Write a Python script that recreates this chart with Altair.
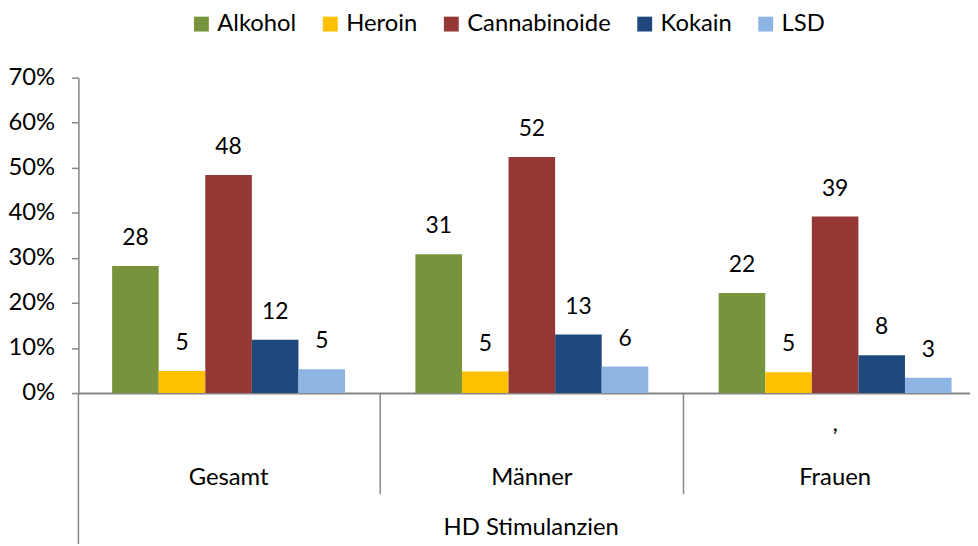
import altair as alt
import pandas as pd

groups = ["Gesamt", "Männer", "Frauen"]
drugs = ["Alkohol", "Heroin", "Cannabinoide", "Kokain", "LSD"]
colors = ["#77933C", "#FFC000", "#953735", "#1F497D", "#8EB4E3"]
gesamt = [28.2, 4.9, 48.4, 11.8, 5.3]
maenner = [30.8, 4.8, 52.4, 13.0, 5.9]
frauen = [22.2, 4.6, 39.2, 8.4, 3.4]
y_ticks = [0, 10, 20, 30, 40, 50, 60, 70]
axis_title = "HD Stimulanzien"
separators = ["Männer", "Frauen"]

rows = []
for g, vals in zip(groups, [gesamt, maenner, frauen]):
    for d, v in zip(drugs, vals):
        rows.append({"Gruppe": g, "Droge": d, "Wert": v})
df = pd.DataFrame(rows)

FONT = "Lato"
FS = 24
W, H = 899, 318
GRAY = "#868686"
P_IN = 0.232
P_OUT = 0.086
STEP = W / (3 - P_IN + 2 * P_OUT)
GAP = P_IN * STEP
ALIGN = 34 / (W - STEP * (3 - P_IN))

x_scale = alt.Scale(domain=groups, paddingInner=P_IN, paddingOuter=P_OUT, align=ALIGN)

x = alt.X(
    "Gruppe:N",
    sort=groups,
    scale=x_scale,
    axis=alt.Axis(
        title=axis_title,
        ticks=False,
        domainColor=GRAY,
        domainWidth=2,
        labelAngle=0,
        labelPadding=38,
        labelBaseline="alphabetic",
        labelFontSize=FS,
        labelFont=FONT,
        labelColor="black",
        labelLineHeight=54,
        labelOverlap=False,
        labelExpr="datum.value == 'Frauen' ? [',', datum.value] : [' ', datum.value]",
        titleFont=FONT,
        titleFontSize=FS,
        titleFontWeight="normal",
        titleColor="black",
        titleX=456,
        titleAlign="center",
        titleY=143,
        titleBaseline="alphabetic",
    ),
)
xo = alt.XOffset("Droge:N", sort=drugs, scale=alt.Scale(paddingInner=0, paddingOuter=0))
y = alt.Y(
    "Wert:Q",
    scale=alt.Scale(domain=[0, 70], nice=False),
    axis=alt.Axis(
        values=y_ticks,
        labelExpr="datum.value + '%'",
        title=None,
        grid=False,
        tickSize=7,
        tickColor=GRAY,
        tickWidth=1.5,
        domainColor=GRAY,
        domainWidth=1.5,
        labelPadding=17,
        labelFontSize=FS,
        labelFont=FONT,
        labelColor="black",
    ),
)

base = alt.Chart(df)
bars = base.mark_bar().encode(
    x=x,
    xOffset=xo,
    y=y,
    color=alt.Color(
        "Droge:N",
        sort=drugs,
        scale=alt.Scale(domain=drugs, range=colors),
        legend=alt.Legend(
            orient="none",
            legendX=112,
            legendY=-66,
            direction="horizontal",
            title=None,
            symbolType="square",
            symbolSize=225,
            symbolStrokeWidth=0,
            labelFontSize=FS,
            labelFont=FONT,
            labelColor="black",
            columnPadding=22,
            labelOffset=4,
        ),
    ),
)
labels = base.mark_text(baseline="bottom", dy=-16, fontSize=23, font=FONT, color="black").encode(
    x=x, xOffset=xo, y=y, text=alt.Text("Wert:Q", format=".0f")
)
seps = alt.Chart(pd.DataFrame({"Gruppe": separators})).mark_rule(
    color=GRAY, strokeWidth=1.5, xOffset=-GAP / 2
).encode(
    x=alt.X("Gruppe:N", sort=groups, scale=x_scale, bandPosition=0),
    y=alt.value(H),
    y2=alt.value(H + 102),
)
ext = alt.Chart(pd.DataFrame({"a": [0]})).mark_rule(color=GRAY, strokeWidth=1.5).encode(
    x=alt.value(0), y=alt.value(H), y2=alt.value(H + 160)
)

chart = (
    alt.layer(bars, labels, seps, ext)
    .properties(
        width=W,
        height=H,
        autosize=alt.AutoSizeParams(type="none"),
        padding={"left": 71, "top": 68, "right": 0, "bottom": 150},
    )
    .configure_view(stroke=None)
)

chart.save("out.html", embed_options={"renderer": "svg", "actions": False})
